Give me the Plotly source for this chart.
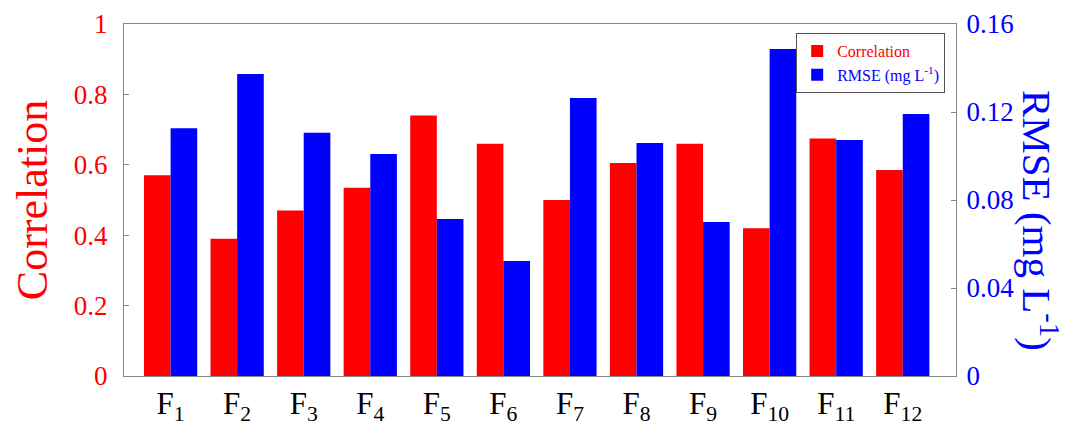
import plotly.graph_objects as go

categories = ["F<sub>%d</sub>" % i for i in range(1, 13)]
positions = list(range(1, 13))
correlation = [0.57, 0.39, 0.47, 0.535, 0.74, 0.66, 0.50, 0.605, 0.66, 0.42, 0.675, 0.585]
rmse = [0.1126, 0.1373, 0.1106, 0.1009, 0.0714, 0.0523, 0.1264, 0.1059, 0.0700, 0.1486, 0.1073, 0.1191]
left_ticks = [0, 0.2, 0.4, 0.6, 0.8, 1.0]
left_ticktext = ["0", "0.2", "0.4", "0.6", "0.8", "1"]
right_ticks = [0, 0.04, 0.08, 0.12, 0.16]
right_ticktext = ["0", "0.04", "0.08", "0.12", "0.16"]

FONT = "Liberation Serif, Times New Roman, serif"
RED = "#ff0000"
BLUE = "#0000ff"

fig = go.Figure()
fig.add_trace(go.Bar(x=positions, y=correlation, name='<span style="color:#ff0000">Correlation</span>',
                     marker=dict(color=RED, line=dict(width=0)), offsetgroup="a", yaxis="y"))
fig.add_trace(go.Bar(x=positions, y=rmse, name='<span style="color:#0000ff">RMSE (mg L<sup>-1</sup>)</span>',
                     marker=dict(color=BLUE, line=dict(width=0)), offsetgroup="b", yaxis="y2"))

# page body has an 8px margin, so the figure is drawn 8px in from the top-left
W, H = 1059, 424
L, R, T, B = 116, 111, 16, 56
pw = W - L - R
ph = H - T - B

fig.update_layout(
    width=W, height=H,
    margin=dict(l=L, r=R, t=T, b=B, autoexpand=False),
    paper_bgcolor="white", plot_bgcolor="white",
    barmode="group", bargap=0.2, bargroupgap=0,
    font=dict(family=FONT),
    showlegend=True,
    legend=dict(x=0.987, y=0.974, xanchor="right", yanchor="top",
                bgcolor="white", bordercolor="#555555", borderwidth=1,
                font=dict(family=FONT, size=16), itemwidth=30,
                tracegroupgap=0),
    xaxis=dict(range=[0.3, 12.8], tickmode="array", tickvals=positions, ticktext=categories,
               tickfont=dict(family=FONT, size=31, color="black"), ticks="",
               showline=True, linecolor="#888888", linewidth=1, mirror=True,
               showgrid=False, zeroline=False, automargin=False),
    yaxis=dict(range=[0, 1], tickmode="array", tickvals=left_ticks, ticktext=left_ticktext,
               tickfont=dict(family=FONT, size=27, color=RED), ticks="inside", ticklen=5,
               tickcolor="#888888", showline=True, linecolor="#888888", linewidth=1,
               showgrid=False, zeroline=False, ticklabelstandoff=10, automargin=True,
               title=dict(text="Correlation", font=dict(family=FONT, size=44, color=RED),
                          standoff=30)),
    yaxis2=dict(range=[0, 0.16], overlaying="y", side="right", tickmode="array",
                tickvals=right_ticks, ticktext=right_ticktext,
                tickfont=dict(family=FONT, size=27, color=BLUE), ticks="inside", ticklen=5,
                tickcolor="#888888", showline=True, linecolor="#888888", linewidth=1,
                showgrid=False, zeroline=False, ticklabelstandoff=4, automargin=False),
    annotations=[
        dict(text="RMSE (mg L<sup>-1</sup>)", x=(1032 - L) / pw, y=(368 - 212) / ph,
             xref="paper", yref="paper", showarrow=False,
             font=dict(family=FONT, size=41, color=BLUE), textangle=90,
             xanchor="center", yanchor="middle"),
    ],
)

fig.write_html("out.html")
